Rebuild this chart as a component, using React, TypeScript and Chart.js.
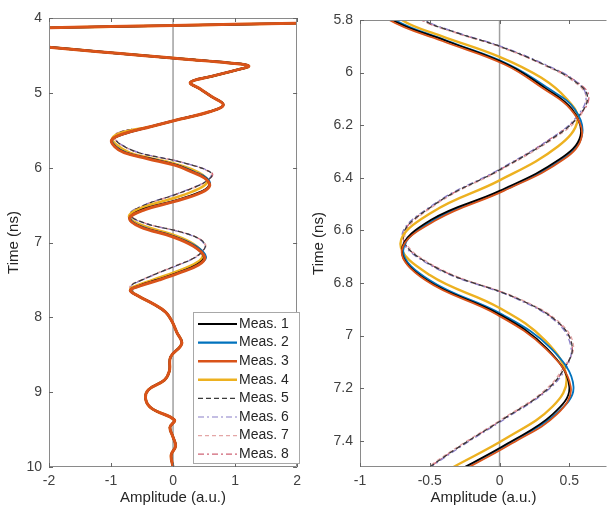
import React, { useEffect, useRef } from 'react';
import { Chart, registerables } from 'chart.js';

Chart.register(...registerables);

// ---------- data (time in ns, amplitude in a.u.) ----------
const EARLY_T = [4.0, 4.04, 4.07, 4.1, 4.13, 4.16, 4.2, 4.25, 4.3, 4.35, 4.39, 4.45, 4.5, 4.55, 4.6, 4.64, 4.7, 4.78, 4.86, 4.95, 5.05, 5.16, 5.25, 5.35, 5.45];
const EARLY_A = [6, 4, 2, 0, -2, -4, -6, -6.5, -4.2, -2.6, -2.0, -1.2, -0.5, 0.2, 0.9, 1.22, 1.0, 0.62, 0.28, 0.44, 0.62, 0.81, 0.6, 0.12, -0.35];

const LATE_T = [7.72, 7.82, 7.93, 8.05, 8.2, 8.35, 8.53, 8.72, 8.84, 8.97, 9.1, 9.22, 9.37, 9.47, 9.6, 9.72, 9.84, 10.0];
const LATE_A = [-0.55, -0.32, -0.12, -0.02, 0.06, 0.14, -0.04, -0.06, -0.14, -0.4, -0.44, -0.34, 0.02, -0.05, 0.0, 0.04, -0.03, 0.0];

const MAIN_MID_T = [5.55, 5.63, 5.72, 5.8, 5.88, 5.97, 6.06, 6.14, 6.24, 6.33, 6.45, 6.56, 6.675, 6.79, 6.92, 7.05, 7.195, 7.3, 7.41, 7.5, 7.58, 7.64];
const MEAS1_MID = [-0.8, -0.99, -0.93, -0.77, -0.38, 0.06, 0.33, 0.52, 0.58, 0.43, 0.0, -0.49, -0.7, -0.52, 0.0, 0.34, 0.5, 0.38, 0.06, -0.25, -0.55, -0.69];
const MEAS2_MID = [-0.79, -0.98, -0.92, -0.75, -0.37, 0.07, 0.35, 0.54, 0.59, 0.45, 0.02, -0.47, -0.69, -0.5, 0.02, 0.37, 0.53, 0.4, 0.07, -0.24, -0.54, -0.68];
const MEAS3_MID = [-0.81, -0.99, -0.94, -0.79, -0.41, 0.04, 0.31, 0.51, 0.59, 0.46, 0.03, -0.45, -0.7, -0.53, -0.02, 0.33, 0.51, 0.41, 0.09, -0.22, -0.53, -0.69];

const YELLOW_MID_T = [5.53, 5.61, 5.7, 5.8, 5.86, 5.94, 6.02, 6.1, 6.18, 6.28, 6.41, 6.53, 6.65, 6.77, 6.895, 7.02, 7.16, 7.27, 7.39, 7.5, 7.58, 7.63];
const MEAS4_MID = [-0.82, -0.98, -0.9, -0.7, -0.42, 0.0, 0.3, 0.48, 0.56, 0.42, 0.0, -0.48, -0.71, -0.5, 0.0, 0.33, 0.48, 0.38, 0.05, -0.33, -0.6, -0.69];

const DASH_MID_T = [5.53, 5.62, 5.72, 5.8, 5.85, 5.9, 5.97, 6.03, 6.09, 6.17, 6.25, 6.37, 6.5, 6.625, 6.74, 6.86, 6.95, 7.04, 7.12, 7.21, 7.32, 7.42, 7.5, 7.57, 7.63];
const MEAS5_MID = [-0.88, -0.93, -0.78, -0.55, -0.3, 0.0, 0.32, 0.53, 0.63, 0.56, 0.38, 0.0, -0.46, -0.69, -0.46, 0.13, 0.42, 0.52, 0.47, 0.33, 0.02, -0.28, -0.5, -0.67, -0.67];
const MEAS6_MID = [-0.87, -0.92, -0.77, -0.54, -0.29, 0.01, 0.33, 0.54, 0.62, 0.55, 0.37, -0.01, -0.47, -0.7, -0.47, 0.12, 0.41, 0.51, 0.48, 0.34, 0.03, -0.27, -0.49, -0.66, -0.67];
const MEAS7_MID = [-0.88, -0.94, -0.79, -0.56, -0.31, -0.01, 0.31, 0.52, 0.62, 0.57, 0.39, 0.01, -0.45, -0.68, -0.45, 0.14, 0.43, 0.53, 0.46, 0.32, 0.01, -0.29, -0.51, -0.67, -0.66];
const MEAS8_MID = [-0.89, -0.93, -0.78, -0.56, -0.3, 0.0, 0.32, 0.54, 0.64, 0.56, 0.37, 0.0, -0.46, -0.69, -0.46, 0.13, 0.42, 0.52, 0.47, 0.33, 0.02, -0.28, -0.5, -0.68, -0.68];

const LABELS = ['Meas. 1', 'Meas. 2', 'Meas. 3', 'Meas. 4', 'Meas. 5', 'Meas. 6', 'Meas. 7', 'Meas. 8'];

const LEFT_X_TICKS = [-2, -1, 0, 1, 2];
const LEFT_Y_TICKS = [4, 5, 6, 7, 8, 9, 10];
const RIGHT_X_TICKS = [-1, -0.5, 0, 0.5];
const RIGHT_Y_TICKS = [5.8, 6, 6.2, 6.4, 6.6, 6.8, 7, 7.2, 7.4];

// ---------- styles ----------
const FONT = "'Liberation Sans', Arial, Helvetica, sans-serif";
const SERIES_STYLE = [
  { color: '#000000', dash: [], wl: 2.2, wr: 1.8, order: 1 },
  { color: '#0072BD', dash: [], wl: 2.2, wr: 1.8, order: 2 },
  { color: '#D95319', dash: [], wl: 3, wr: 1.8, order: 0 },
  { color: '#EDB120', dash: [], wl: 2.6, wr: 2.4, order: 3 },
  { color: '#3a3a3a', dash: [5, 3], wl: 1.2, wr: 1.3, order: 4 },
  { color: '#8a7fc8', dash: [6, 3, 2, 3], wl: 1.2, wr: 1.3, order: 5 },
  { color: '#e4a6a6', dash: [4, 3], wl: 1.2, wr: 1.3, order: 6 },
  { color: '#cf6476', dash: [6, 3, 2, 3], wl: 1.2, wr: 1.3, order: 7 },
];

const MID_T = [MAIN_MID_T, MAIN_MID_T, MAIN_MID_T, YELLOW_MID_T, DASH_MID_T, DASH_MID_T, DASH_MID_T, DASH_MID_T];
const MID_A = [MEAS1_MID, MEAS2_MID, MEAS3_MID, MEAS4_MID, MEAS5_MID, MEAS6_MID, MEAS7_MID, MEAS8_MID];

function zip(t: number[], a: number[]) {
  const n = Math.min(t.length, a.length);
  const out: { x: number; y: number }[] = [];
  for (let i = 0; i < n; i++) out.push({ x: a[i], y: t[i] });
  return out;
}

function seriesPoints(i: number) {
  return [...zip(EARLY_T, EARLY_A), ...zip(MID_T[i], MID_A[i]), ...zip(LATE_T, LATE_A)];
}

const framePlugin = {
  id: 'frame',
  beforeDatasetsDraw(chart: any) {
    const { ctx, chartArea, scales } = chart;
    const x0 = scales.x.getPixelForValue(0);
    ctx.save();
    ctx.strokeStyle = '#a0a0a0';
    ctx.lineWidth = 1.5;
    ctx.beginPath();
    ctx.moveTo(x0, chartArea.top);
    ctx.lineTo(x0, chartArea.bottom);
    ctx.stroke();
    ctx.restore();
  },
  afterDatasetsDraw(chart: any, _a: any, opts: any) {
    const { ctx, chartArea, scales } = chart;
    const { left, right, top, bottom } = chartArea;
    ctx.save();
    ctx.strokeStyle = '#8a8a8a';
    ctx.lineWidth = 1;
    ctx.beginPath();
    ctx.moveTo(Math.round(right) - 0.5, Math.round(top) + 0.5);
    ctx.lineTo(Math.round(left) + 0.5, Math.round(top) + 0.5);
    ctx.lineTo(Math.round(left) + 0.5, Math.round(bottom) - 0.5);
    ctx.lineTo(Math.round(right) - 0.5, Math.round(bottom) - 0.5);
    if (opts && opts.rightBorder) ctx.lineTo(Math.round(right) - 0.5, Math.round(top) + 0.5);
    ctx.stroke();
    ctx.strokeStyle = '#666666';
    ctx.beginPath();
    const tl = 4;
    scales.x.ticks.forEach((t: any) => {
      const px = Math.round(scales.x.getPixelForValue(t.value)) + 0.5;
      ctx.moveTo(px, bottom);
      ctx.lineTo(px, bottom - tl);
      ctx.moveTo(px, top);
      ctx.lineTo(px, top + tl);
    });
    scales.y.ticks.forEach((t: any) => {
      const py = Math.round(scales.y.getPixelForValue(t.value)) + 0.5;
      ctx.moveTo(left, py);
      ctx.lineTo(left + tl, py);
      if (opts && opts.rightBorder) {
        ctx.moveTo(right, py);
        ctx.lineTo(right - tl, py);
      }
    });
    ctx.stroke();
    ctx.restore();
  },
};

const legendPlugin = {
  id: 'measLegend',
  afterDraw(chart: any, _a: any, opts: any) {
    if (!opts || !opts.show) return;
    const ctx = chart.ctx;
    const { x, y, w, h, firstRow, rowH } = opts;
    ctx.save();
    ctx.fillStyle = '#ffffff';
    ctx.fillRect(x, y, w, h);
    ctx.strokeStyle = '#a8a8a8';
    ctx.lineWidth = 1;
    ctx.strokeRect(x + 0.5, y + 0.5, w - 1, h - 1);
    LABELS.forEach((label, i) => {
      const s = SERIES_STYLE[i];
      const yy = y + firstRow + i * rowH;
      ctx.strokeStyle = s.color;
      ctx.lineWidth = Math.min(s.wl, 2.4);
      ctx.setLineDash(s.dash);
      ctx.beginPath();
      ctx.moveTo(x + 5, yy);
      ctx.lineTo(x + 44, yy);
      ctx.stroke();
      ctx.setLineDash([]);
      ctx.fillStyle = '#262626';
      ctx.font = `14px ${FONT}`;
      ctx.textBaseline = 'middle';
      ctx.textAlign = 'left';
      ctx.fillText(label, x + 46, yy);
    });
    ctx.restore();
  },
};

type Panel = {
  xMin: number; xMax: number; yMin: number; yMax: number;
  xTicks: number[]; yTicks: number[];
  padTop: number; padRight: number; yWidth: number; xHeight: number;
  left: boolean; rightBorder: boolean;
};

function buildConfig(p: Panel): any {
  const datasets = LABELS.map((label, i) => {
    const s = SERIES_STYLE[i];
    return {
      label,
      data: seriesPoints(i),
      showLine: true,
      borderColor: s.color,
      backgroundColor: s.color,
      borderWidth: p.left ? s.wl : s.wr,
      borderDash: s.dash,
      pointRadius: 0,
      tension: 0.4,
      order: s.order,
      fill: false,
    };
  });
  return {
    type: 'scatter',
    data: { datasets },
    options: {
      responsive: false,
      animation: false,
      devicePixelRatio: 1,
      layout: { padding: { top: p.padTop, right: p.padRight, bottom: 0, left: 0 } },
      plugins: {
        legend: { display: false },
        tooltip: { enabled: false },
        frame: { rightBorder: p.rightBorder },
        measLegend: { show: p.left, x: 193, y: 312, w: 107, h: 152, firstRow: 12, rowH: 18.6 },
      },
      scales: {
        x: {
          type: 'linear',
          min: p.xMin,
          max: p.xMax,
          afterBuildTicks: (s: any) => { s.ticks = p.xTicks.map((v) => ({ value: v })); },
          afterFit: (s: any) => { s.height = p.xHeight; },
          grid: { display: false, drawTicks: false },
          border: { display: false },
          ticks: {
            autoSkip: false, maxRotation: 0, padding: 6, color: '#404040',
            font: { family: FONT, size: 14 },
            callback: (v: any) => String(v),
          },
          title: {
            display: true, text: 'Amplitude (a.u.)', color: '#262626',
            font: { family: FONT, size: 15 }, padding: { top: 0, bottom: 1 },
          },
        },
        y: {
          type: 'linear',
          reverse: true,
          min: p.yMin,
          max: p.yMax,
          afterBuildTicks: (s: any) => { s.ticks = p.yTicks.map((v) => ({ value: v })); },
          afterFit: (s: any) => { s.width = p.yWidth; },
          grid: { display: false, drawTicks: false },
          border: { display: false },
          ticks: {
            autoSkip: false, padding: 7, color: '#404040',
            font: { family: FONT, size: 14 },
            callback: (v: any) => String(v),
          },
          title: {
            display: true, text: 'Time (ns)', color: '#262626',
            font: { family: FONT, size: 15 }, padding: { top: 5, bottom: 0 },
          },
        },
      },
    },
    plugins: [framePlugin, legendPlugin],
  };
}

const LEFT_PANEL: Panel = {
  xMin: -2, xMax: 2, yMin: 4, yMax: 10,
  xTicks: LEFT_X_TICKS, yTicks: LEFT_Y_TICKS,
  padTop: 18, padRight: 5, yWidth: 49, xHeight: 41, left: true, rightBorder: true,
};

const RIGHT_PANEL: Panel = {
  xMin: -1, xMax: 0.77, yMin: 5.8, yMax: 7.5,
  xTicks: RIGHT_X_TICKS, yTicks: RIGHT_Y_TICKS,
  padTop: 20, padRight: 0, yWidth: 55, xHeight: 41, left: false, rightBorder: false,
};

export default function App() {
  const leftRef = useRef<HTMLCanvasElement>(null);
  const rightRef = useRef<HTMLCanvasElement>(null);
  useEffect(() => {
    const c1 = new Chart(leftRef.current as HTMLCanvasElement, buildConfig(LEFT_PANEL));
    const c2 = new Chart(rightRef.current as HTMLCanvasElement, buildConfig(RIGHT_PANEL));
    return () => { c1.destroy(); c2.destroy(); };
  }, []);
  return (
    <div style={{ position: 'fixed', left: 0, top: 0, width: 607, height: 508, background: '#ffffff', overflow: 'hidden' }}>
      <canvas ref={leftRef} width={307} height={508} style={{ position: 'absolute', left: 0, top: 0 }} />
      <canvas ref={rightRef} width={302} height={508} style={{ position: 'absolute', left: 305, top: 0 }} />
    </div>
  );
}
